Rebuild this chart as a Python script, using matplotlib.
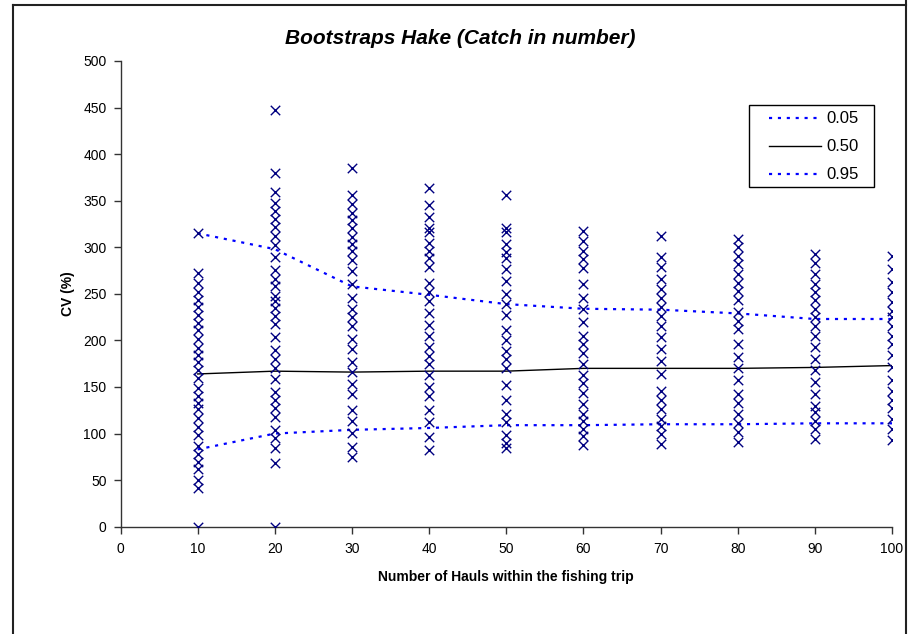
import matplotlib
matplotlib.use("Agg")
import matplotlib.pyplot as plt
from matplotlib.lines import Line2D
from matplotlib.patches import Rectangle

plt.rcParams['font.family'] = ['Liberation Sans', 'DejaVu Sans']

# ---- data ----
hauls = [10, 20, 30, 40, 50, 60, 70, 80, 90, 100]

cv_10 = [315, 272, 262, 252, 243, 236, 227, 219, 211, 202, 192, 184, 177, 168, 160, 149, 140, 133,
         126, 117, 107, 98, 87, 78, 70, 62, 50, 42, 0]
cv_20 = [447, 380, 359, 348, 339, 330, 322, 312, 302, 290, 276, 266, 258, 248, 242, 235, 226, 218,
         204, 190, 180, 170, 159, 145, 136, 127, 118, 104, 95, 84, 68, 0]
cv_30 = [385, 356, 346, 337, 329, 321, 311, 303, 296, 286, 275, 261, 246, 234, 225, 216, 202, 191,
         177, 166, 153, 143, 125, 113, 101, 86, 75]
cv_40 = [364, 345, 333, 321, 316, 305, 296, 289, 279, 262, 252, 242, 229, 217, 205, 193, 183, 175,
         163, 150, 140, 125, 112, 96, 82]
cv_50 = [356, 321, 316, 304, 295, 288, 277, 264, 250, 239, 227, 211, 200, 189, 180, 170, 152, 136,
         121, 112, 98, 90, 84]
cv_60 = [318, 307, 296, 287, 278, 261, 246, 234, 220, 205, 196, 186, 175, 163, 154, 144, 132, 121,
         113, 105, 97, 88]
cv_70 = [312, 290, 279, 266, 255, 246, 236, 226, 216, 204, 191, 178, 164, 146, 136, 126, 116, 108,
         100, 89]
cv_80 = [309, 300, 291, 282, 271, 262, 253, 243, 230, 221, 212, 196, 182, 170, 157, 143, 133, 121,
         111, 102, 91]
cv_90 = [293, 283, 271, 261, 252, 243, 234, 225, 216, 205, 193, 180, 168, 155, 143, 130, 123, 114,
         105, 94]
cv_100 = [291, 277, 263, 252, 241, 232, 225, 216, 205, 196, 184, 171, 157, 146, 136, 127, 116, 105, 93]

q05 = [83, 100, 104, 106, 109, 109, 110, 110, 111, 111]
q50 = [164, 167, 166, 167, 167, 170, 170, 170, 171, 173]
q95 = [315, 298, 258, 249, 239, 234, 233, 229, 223, 223]

title = "Bootstraps Hake (Catch in number)"
xlabel = "Number of Hauls within the fishing trip"
ylabel = "CV (%)"

# ---- figure ----
W, H = 914, 634
fig = plt.figure(figsize=(W / 100, H / 100), dpi=100)
ax = fig.add_axes([120.5 / W, 1 - 526.7 / H, (892 - 120.5) / W, (526.7 - 61) / H])

columns = [cv_10, cv_20, cv_30, cv_40, cv_50, cv_60, cv_70, cv_80, cv_90, cv_100]
for xv, vals in zip(hauls, columns):
    ax.scatter([xv] * len(vals), vals, marker='x', s=46, color='#000080', linewidths=1.0, zorder=3)

blue_dash = (0, (1.4, 2.6))
ax.plot(hauls, q05, color='#0000FF', lw=1.6, linestyle=blue_dash, label='0.05', zorder=2)
ax.plot(hauls, q50, color='black', lw=1.0, label='0.50', zorder=2)
ax.plot(hauls, q95, color='#0000FF', lw=1.6, linestyle=blue_dash, label='0.95', zorder=2)

ax.set_xlim(0, 100)
ax.set_ylim(0, 500)
ax.set_xticks(range(0, 101, 10))
ax.set_yticks(range(0, 501, 50))
ax.spines['top'].set_visible(False)
ax.spines['right'].set_visible(False)
for s in ['left', 'bottom']:
    ax.spines[s].set_linewidth(1.0)
    ax.spines[s].set_color('#333333')
ax.tick_params(direction='out', length=5, width=1, labelsize=10, color='#333333')
ax.tick_params(axis='y', pad=5)
ax.tick_params(axis='x', pad=6)

ax.set_xlabel(xlabel, fontsize=10, fontweight='bold', labelpad=10)
ax.set_ylabel(ylabel, fontsize=10, fontweight='bold', labelpad=6)

fig.text(460 / W, 1 - 38 / H, title, ha='center', va='center', fontsize=15,
         fontweight='bold', fontstyle='italic')

leg = fig.legend(loc='upper left', bbox_to_anchor=(766 / W, 1 - 108 / H), fontsize=12,
                 frameon=False, handlelength=3.1, handletextpad=0.3, borderpad=0.2,
                 labelspacing=0.78, borderaxespad=0)
fig.add_artist(Rectangle((749 / W, 1 - 187 / H), (874 - 749) / W, (187 - 105) / H,
                         fill=False, edgecolor='black', lw=1.0, transform=fig.transFigure))

# chart-area border
bc = '#222222'
fig.add_artist(Line2D([13 / W, 906 / W], [1 - 5 / H, 1 - 5 / H], color=bc, lw=1.5, transform=fig.transFigure))
fig.add_artist(Line2D([13 / W, 13 / W], [0, 1 - 5 / H], color=bc, lw=1.5, transform=fig.transFigure))
fig.add_artist(Line2D([906 / W, 906 / W], [0, 1], color=bc, lw=1.5, transform=fig.transFigure))

fig.savefig("out.png", dpi=100)
